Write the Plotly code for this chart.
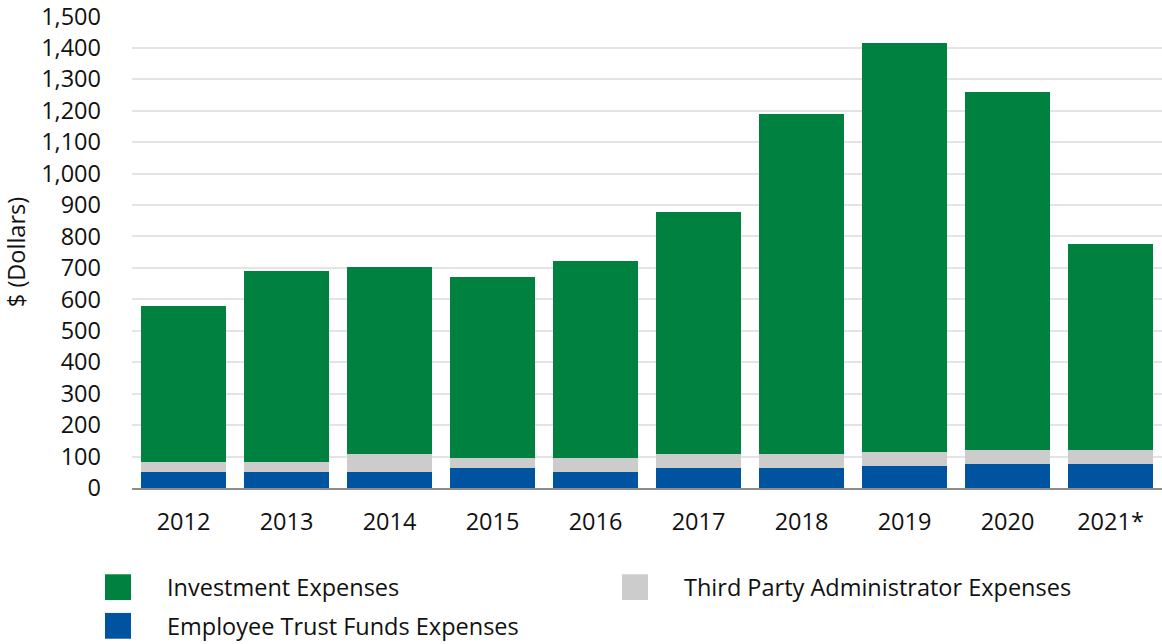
import plotly.graph_objects as go

years = ["2012", "2013", "2014", "2015", "2016", "2017", "2018", "2019", "2020", "2021*"]
employee_trust = [51, 51, 51, 64, 51, 64, 64, 70, 77, 77]
third_party = [32, 32, 57, 32, 45, 44, 44, 45, 44, 44]
investment = [495, 607, 594, 576, 625, 769, 1082, 1300, 1138, 656]

GREEN = "#00813f"
GRAY = "#cccccc"
BLUE = "#00549f"
FONT = "Open Sans"
FS = 23.5

W, H = 1162, 644
L, R, T, B = 132, 0, 12, 156

fig = go.Figure()
# stacked bottom -> top
fig.add_trace(go.Bar(x=years, y=employee_trust, name="Employee Trust Funds Expenses",
                     marker=dict(color=BLUE, line_width=0)))
fig.add_trace(go.Bar(x=years, y=third_party, name="Third Party Administrator Expenses",
                     marker=dict(color=GRAY, line_width=0)))
fig.add_trace(go.Bar(x=years, y=investment, name="Investment Expenses",
                     marker=dict(color=GREEN, line_width=0)))

fig.update_layout(
    barmode="stack",
    bargap=0.17,
    width=W, height=H,
    margin=dict(l=L, r=R, t=T, b=B),
    plot_bgcolor="white",
    paper_bgcolor="white",
    showlegend=False,
    font=dict(family=FONT, size=FS, color="#111111"),
)

fig.update_yaxes(
    range=[0, 1501],
    tickvals=list(range(0, 1501, 100)),
    tickformat=",d",
    showgrid=True,
    gridcolor="#e4e4e4",
    gridwidth=2,
    zeroline=False,
    ticks="",
    ticklabelstandoff=30,
    ticklabeloverflow="allow",
    title=dict(text="$ (Dollars)", font=dict(size=FS), standoff=8),
)
fig.update_xaxes(
    showline=True,
    linecolor="#8c8c8c",
    linewidth=2,
    ticks="",
    ticklabelstandoff=12,
)

# legend drawn by hand: two columns, swatches 26x26 px
def px_x(p):
    return (p - L) / (W - L - R)

def px_y(p):
    return (H - B - p) / (H - T - B)

legend_items = [("Investment Expenses", GREEN, 105, 588),
                ("Third Party Administrator Expenses", GRAY, 622, 588),
                ("Employee Trust Funds Expenses", BLUE, 105, 627)]
for label, color, x0, yc in legend_items:
    fig.add_shape(type="rect", xref="paper", yref="paper",
                  x0=px_x(x0), x1=px_x(x0 + 26), y0=px_y(yc + 13), y1=px_y(yc - 13),
                  fillcolor=color, line_width=0)
    fig.add_annotation(text=label, xref="paper", yref="paper",
                       x=px_x(x0 + 60), y=px_y(yc), xanchor="left", yanchor="middle",
                       showarrow=False, font=dict(size=FS))

# drop the default 8px body margin so the figure sits at the page corner
fig.write_html("out.html", config={"displayModeBar": False},
               post_script="document.body.style.margin='0';")
